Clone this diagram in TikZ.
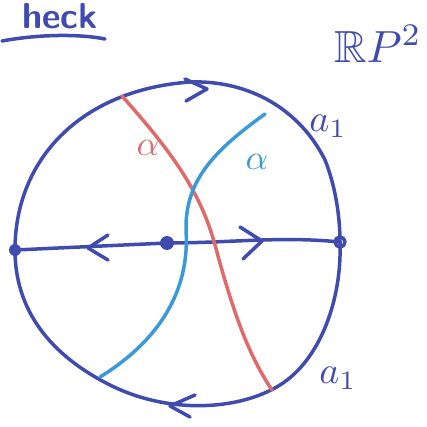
\documentclass[tikz,border=0pt]{standalone}
\usepackage{amssymb}
\usepackage{graphicx}
\begin{document}
\begin{tikzpicture}[x=1pt,y=-1pt,line cap=round,line join=round,
  ink/.style={draw=inkblue,line width=3.5pt},
  redc/.style={draw=redc,line width=3.5pt},
  bluec/.style={draw=lightb,line width=3.5pt}]
\definecolor{inkblue}{HTML}{3F4BAE}
\definecolor{redc}{HTML}{E06A6A}
\definecolor{lightb}{HTML}{3A9AD9}
\useasboundingbox (0,0) rectangle (427,427);
% key points
\coordinate (L) at (15,250);
\coordinate (R) at (340,242);
\coordinate (C) at (167,243);
% outline
\draw[ink] (L) .. controls (15,160) and (80,90) .. (190,82)
  .. controls (250,80) and (300,110) .. (325,160)
  .. controls (335,185) and (340,215) .. (R)
  .. controls (342,300) and (320,360) .. (280,385)
  .. controls (240,410) and (170,415) .. (110,385)
  .. controls (50,355) and (15,310) .. (L);
% equator
\draw[ink] (L) -- (C) .. controls (230,243) and (280,236) .. (R);
\fill[inkblue] (L) circle (6);
\fill[inkblue] (C) circle (7);
\draw[inkblue,line width=3.5pt] (R) circle (5);
% chevrons
\draw[ink] (185,79) -- (207,89) -- (186,101);
\draw[ink] (195,395) -- (170,406) -- (190,417);
\draw[ink] (108,235) -- (88,248) -- (108,260);
\draw[ink] (240,227) -- (262,241) -- (243,259);
% curves
\draw[redc] (122,96) .. controls (170,150) and (200,190) .. (215,245)
  .. controls (230,300) and (245,350) .. (272,390);
\draw[bluec] (265,114) .. controls (215,150) and (185,180) .. (186,230)
  .. controls (190,290) and (160,340) .. (100,377);
% labels
\node[text=redc] (ar) at (148,148) {\scalebox{3.5}{$\alpha$}};
\node[text=lightb] (ab) at (257,162) {\scalebox{3.5}{$\alpha$}};
\node[text=inkblue] (a1) at (328,126) {\scalebox{3.8}{$a_1$}};
\node[text=inkblue] (a2) at (338,378) {\scalebox{3.8}{$a_1$}};
\node[text=inkblue] (rp) at (378,44) {\scalebox{4.5}{$\mathbb{R}P^2$}};
\node[text=inkblue,font=\fontsize{36}{36}\selectfont\bfseries\sffamily] (hk) at (60,16) {heck};
\draw[ink] (2,41) .. controls (40,34) and (80,34) .. (105,39);
\end{tikzpicture}
\end{document}
